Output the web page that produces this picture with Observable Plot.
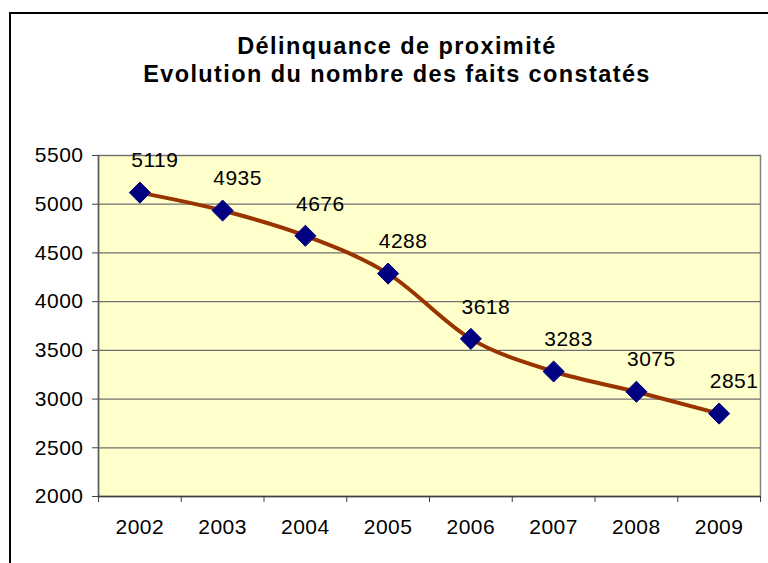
<!DOCTYPE html>
<html>
<head>
<meta charset="utf-8">
<script src="https://cdn.jsdelivr.net/npm/d3@7"></script>
<script src="https://cdn.jsdelivr.net/npm/@observablehq/plot@0.6"></script>
<style>
  html, body { margin: 0; padding: 0; background: #fff; overflow: hidden; }
  #wrap { position: relative; width: 768px; height: 563px; overflow: hidden; font-family: "Liberation Sans", Arial, sans-serif; }
  #frame { position: absolute; left: 9px; top: 12px; width: 900px; height: 700px; border: 2px solid #000; box-sizing: border-box; }
  #title { position: absolute; left: 10px; width: 774px; top: 32px; text-align: center; font-weight: bold; font-size: 23.5px; line-height: 28px; letter-spacing: 1.4px; color: #000; }
  #chart { position: absolute; left: 0; top: 0; }
  #chart svg text { letter-spacing: 0.5px; }
</style>
</head>
<body>
<div id="wrap">
  <div id="frame"></div>
  <div id="chart"></div>
  <div id="title">Délinquance de proximité<br>Evolution du nombre des faits constatés</div>
</div>
<script>
const years = [2002, 2003, 2004, 2005, 2006, 2007, 2008, 2009];
const values = [5119, 4935, 4676, 4288, 3618, 3283, 3075, 2851];
const yTicks = [2000, 2500, 3000, 3500, 4000, 4500, 5000, 5500];

const data = years.map((year, i) => ({year, value: values[i]}));
const bounds = years.map(y => y - 0.5).concat([years[years.length - 1] + 0.5]);
const xDomain = [bounds[0], bounds[bounds.length - 1]];

const chart = Plot.plot({
  width: 768,
  height: 563,
  marginLeft: 98,
  marginRight: 8,
  marginTop: 155,
  marginBottom: 67,
  style: {fontFamily: "'Liberation Sans', Arial, sans-serif", fontSize: "21px", color: "#000", background: "transparent"},
  x: {domain: xDomain, label: null},
  y: {domain: [yTicks[0], yTicks[yTicks.length - 1]], label: null},
  marks: [
    Plot.frame({fill: "#FFFFCC", stroke: "#808080", strokeWidth: 1.5}),
    Plot.gridY(yTicks, {stroke: "#707070", strokeOpacity: 1, strokeWidth: 1.2}),
    Plot.ruleX([xDomain[0]], {stroke: "#606060", strokeWidth: 1.5}),
    Plot.ruleY([yTicks[0]], {stroke: "#404040", strokeWidth: 1.5}),
    Plot.axisY(yTicks, {tickSize: 6, tickPadding: 9, fontSize: 21, stroke: "#404040", tickFormat: d => String(d), label: null}),
    Plot.axisX(bounds, {tickSize: 6, tickFormat: () => "", stroke: "#404040", label: null}),
    Plot.axisX(years, {tickSize: 0, tickPadding: 23, fontSize: 21, tickFormat: d => String(d), label: null}),
    Plot.line(data, {x: "year", y: "value", stroke: "#993300", strokeWidth: 4, curve: "monotone-x"}),
    Plot.dot(data, {x: "year", y: "value", symbol: "diamond2", r: 9.5, fill: "#000080", stroke: "#000080", strokeWidth: 1}),
    Plot.text(data, {x: "year", y: "value", text: d => String(d.value), dx: 15, dy: -32, fontSize: 21, fill: "#000"})
  ]
});
document.getElementById("chart").appendChild(chart);
</script>
</body>
</html>
